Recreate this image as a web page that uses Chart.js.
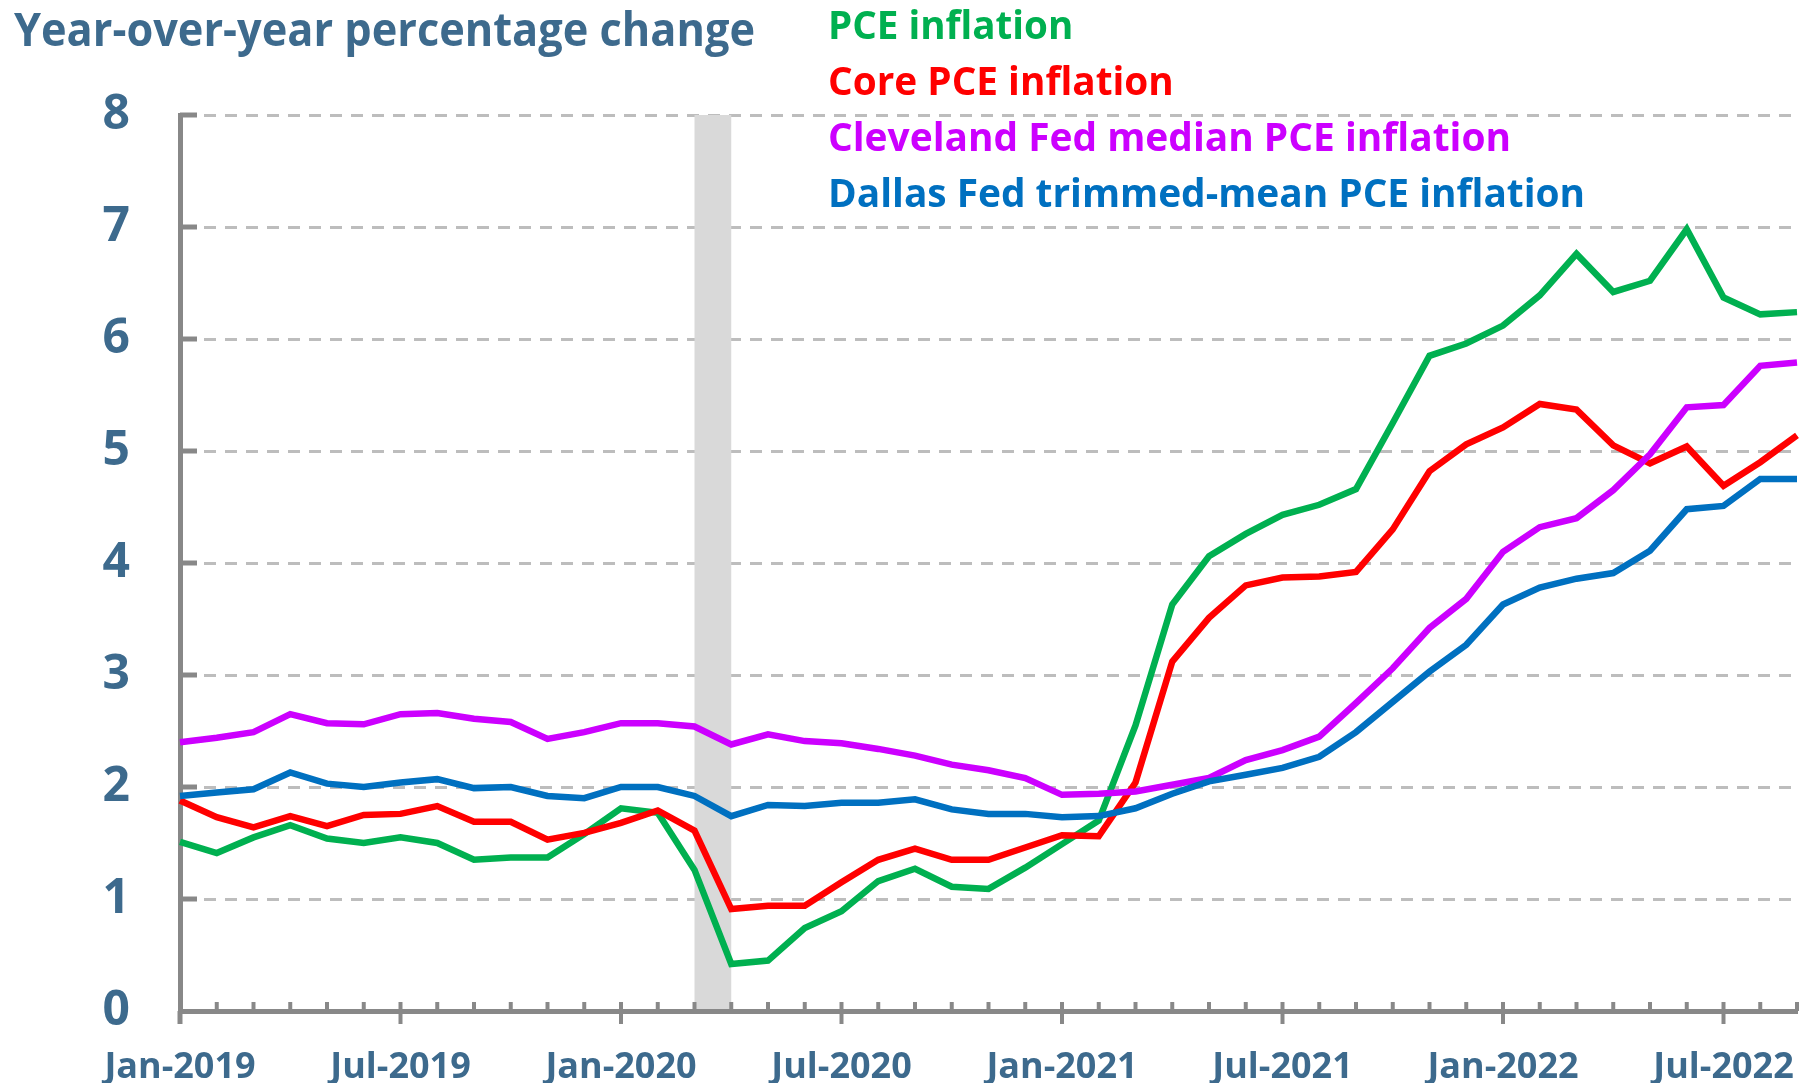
<!DOCTYPE html>
<html>
<head>
<meta charset="utf-8">
<title>PCE inflation measures</title>
<script src="https://cdn.jsdelivr.net/npm/chart.js@4.4.0/dist/chart.umd.min.js"></script>
<style>
    html, body { margin: 0; padding: 0; background: #fff; }
    #wrap { position: relative; width: 1804px; height: 1083px; overflow: hidden; }
    #chart { position: absolute; left: 0; top: 0; }
    .txt {
        position: absolute;
        font-family: "Open Sans", sans-serif;
        font-weight: bold;
        white-space: nowrap;
        line-height: 1;
        transform-origin: 0 0;
    }
</style>
</head>
<body>
<div id="wrap">
    <canvas id="chart" width="1804" height="1083"></canvas>
    <div class="txt" id="title" style="left:14px;top:5px;font-size:46px;color:#3D6A8D;">Year-over-year percentage change</div>
    <div class="txt leg" id="leg0" style="left:828px;top:4px;font-size:40px;color:#00B050;">PCE inflation</div>
    <div class="txt leg" id="leg1" style="left:828px;top:60px;font-size:40px;color:#FF0000;">Core PCE inflation</div>
    <div class="txt leg" id="leg2" style="left:828px;top:116px;font-size:40px;color:#CC00FF;">Cleveland Fed median PCE inflation</div>
    <div class="txt leg" id="leg3" style="left:828px;top:172px;font-size:40px;color:#0070C0;">Dallas Fed trimmed-mean PCE inflation</div>
</div>
<script>
// ============================================
// Data (monthly, Jan-2019 .. Sep-2022)
// ============================================

const months = [
    'Jan-2019', 'Feb-2019', 'Mar-2019', 'Apr-2019', 'May-2019', 'Jun-2019',
    'Jul-2019', 'Aug-2019', 'Sep-2019', 'Oct-2019', 'Nov-2019', 'Dec-2019',
    'Jan-2020', 'Feb-2020', 'Mar-2020', 'Apr-2020', 'May-2020', 'Jun-2020',
    'Jul-2020', 'Aug-2020', 'Sep-2020', 'Oct-2020', 'Nov-2020', 'Dec-2020',
    'Jan-2021', 'Feb-2021', 'Mar-2021', 'Apr-2021', 'May-2021', 'Jun-2021',
    'Jul-2021', 'Aug-2021', 'Sep-2021', 'Oct-2021', 'Nov-2021', 'Dec-2021',
    'Jan-2022', 'Feb-2022', 'Mar-2022', 'Apr-2022', 'May-2022', 'Jun-2022',
    'Jul-2022', 'Aug-2022', 'Sep-2022'
];

const pceInflation = [
    1.51, 1.41, 1.55, 1.66, 1.54, 1.50, 1.55, 1.50, 1.35, 1.37, 1.37, 1.58,
    1.81, 1.77, 1.26, 0.42, 0.45, 0.74, 0.89, 1.16, 1.27, 1.11, 1.09, 1.28,
    1.49, 1.70, 2.55, 3.63, 4.06, 4.26, 4.43, 4.52, 4.66, 5.25, 5.85, 5.96,
    6.12, 6.39, 6.76, 6.42, 6.52, 6.98, 6.37, 6.22, 6.24
];

const corePce = [
    1.88, 1.73, 1.64, 1.74, 1.65, 1.75, 1.76, 1.83, 1.69, 1.69, 1.53, 1.59,
    1.68, 1.79, 1.61, 0.91, 0.94, 0.94, 1.15, 1.35, 1.45, 1.35, 1.35, 1.46,
    1.57, 1.56, 2.04, 3.12, 3.51, 3.80, 3.87, 3.88, 3.92, 4.30, 4.82, 5.06,
    5.21, 5.42, 5.37, 5.05, 4.89, 5.04, 4.69, 4.90, 5.14
];

const clevelandMedian = [
    2.40, 2.44, 2.49, 2.65, 2.57, 2.56, 2.65, 2.66, 2.61, 2.58, 2.43, 2.49,
    2.57, 2.57, 2.54, 2.38, 2.47, 2.41, 2.39, 2.34, 2.28, 2.20, 2.15, 2.08,
    1.93, 1.94, 1.96, 2.02, 2.08, 2.24, 2.33, 2.45, 2.75, 3.06, 3.42, 3.68,
    4.10, 4.32, 4.40, 4.65, 4.97, 5.39, 5.41, 5.76, 5.79
];

const dallasTrimmed = [
    1.92, 1.95, 1.98, 2.13, 2.03, 2.00, 2.04, 2.07, 1.99, 2.00, 1.92, 1.90,
    2.00, 2.00, 1.92, 1.74, 1.84, 1.83, 1.86, 1.86, 1.89, 1.80, 1.76, 1.76,
    1.73, 1.74, 1.81, 1.94, 2.05, 2.11, 2.17, 2.27, 2.49, 2.76, 3.03, 3.27,
    3.63, 3.78, 3.86, 3.91, 4.11, 4.48, 4.51, 4.75, 4.75
];

const seriesNames = [
    'PCE inflation',
    'Core PCE inflation',
    'Cleveland Fed median PCE inflation',
    'Dallas Fed trimmed-mean PCE inflation'
];

// shaded recession months
const recession = ['Mar-2020', 'Apr-2020'];

const yTicks = [0, 1, 2, 3, 4, 5, 6, 7, 8];

// ============================================
// Chart
// ============================================

const FONT = '"Open Sans", sans-serif';
const LABEL_COLOR = '#3D6A8D';
const AXIS_COLOR = '#888888';

function isMajor(label) {
    return label.startsWith('Jan') || label.startsWith('Jul');
}

const axisMarks = {
    id: 'axisMarks',
    beforeDatasetsDraw(chart) {
        const { ctx, chartArea, scales: { x } } = chart;
        const x0 = x.getPixelForValue(months.indexOf(recession[0]));
        const x1 = x.getPixelForValue(months.indexOf(recession[1]));
        ctx.save();
        ctx.fillStyle = '#D9D9D9';
        ctx.fillRect(x0, chartArea.top, x1 - x0, chartArea.bottom - chartArea.top - 2);
        ctx.restore();
    },
    afterDatasetsDraw(chart) {
        const { ctx, chartArea, scales: { x, y } } = chart;
        const base = y.getPixelForValue(0);
        ctx.save();
        ctx.strokeStyle = AXIS_COLOR;
        ctx.lineWidth = 4;
        months.forEach((m, i) => {
            if (i === 0) return;
            const px = x.getPixelForValue(i);
            ctx.beginPath();
            ctx.moveTo(px, base - 9);
            ctx.lineTo(px, isMajor(m) ? base + 13 : base);
            ctx.stroke();
        });
        // the first month: tick below the corner only
        ctx.lineWidth = 5;
        ctx.beginPath();
        ctx.moveTo(chartArea.left, base);
        ctx.lineTo(chartArea.left, base + 13);
        ctx.stroke();
        // short ticks on the value axis
        yTicks.forEach(v => {
            if (v === 0) return;
            const py = y.getPixelForValue(v);
            ctx.beginPath();
            ctx.moveTo(chartArea.left, py);
            ctx.lineTo(chartArea.left + 17, py);
            ctx.stroke();
        });
        ctx.restore();
    }
};

const seriesData = [pceInflation, corePce, clevelandMedian, dallasTrimmed];
const seriesColors = ['#00B050', '#FF0000', '#CC00FF', '#0070C0'];

new Chart(document.getElementById('chart'), {
    type: 'line',
    data: {
        labels: months,
        datasets: seriesData.map((d, i) => ({
            label: seriesNames[i],
            data: d,
            borderColor: seriesColors[i],
            backgroundColor: seriesColors[i],
            borderWidth: 6.5,
            pointRadius: 0,
            tension: 0,
            fill: false,
            order: 4 - i
        }))
    },
    options: {
        responsive: false,
        animation: false,
        layout: { padding: { top: 115, right: 7, left: 0, bottom: 0 } },
        plugins: {
            legend: { display: false },
            tooltip: { enabled: false }
        },
        scales: {
            x: {
                type: 'category',
                offset: false,
                afterFit: s => {
                    s.height = 72;
                    s.paddingLeft = 0;
                    s.paddingRight = 0;
                },
                grid: { display: false, drawTicks: false },
                border: { display: true, color: AXIS_COLOR, width: 5 },
                ticks: {
                    autoSkip: false,
                    maxRotation: 0,
                    padding: 35,
                    color: LABEL_COLOR,
                    font: { family: FONT, size: 36, weight: 'bold' },
                    callback: function (val, idx) {
                        const m = months[idx];
                        return isMajor(m) ? m : '';
                    }
                }
            },
            y: {
                min: 0,
                max: 8,
                afterFit: s => {
                    s.width = 180;
                    s.paddingTop = 0;
                    s.paddingBottom = 0;
                },
                afterBuildTicks: s => { s.ticks = yTicks.map(v => ({ value: v })); },
                grid: { color: '#BDBDBD', lineWidth: 3, drawTicks: false },
                border: { display: true, color: AXIS_COLOR, width: 5, dash: [12, 9] },
                ticks: {
                    padding: 50,
                    color: LABEL_COLOR,
                    font: { family: FONT, size: 48, weight: 'bold' }
                }
            }
        }
    },
    plugins: [axisMarks]
});

// squeeze the header texts to the narrow face of the original
function fitWidth(id, w) {
    const el = document.getElementById(id);
    el.style.transform = 'scaleX(' + (w / el.offsetWidth) + ')';
}
fitWidth('title', 741);
fitWidth('leg0', 245);
fitWidth('leg1', 346);
fitWidth('leg2', 683);
fitWidth('leg3', 757);
</script>
</body>
</html>
